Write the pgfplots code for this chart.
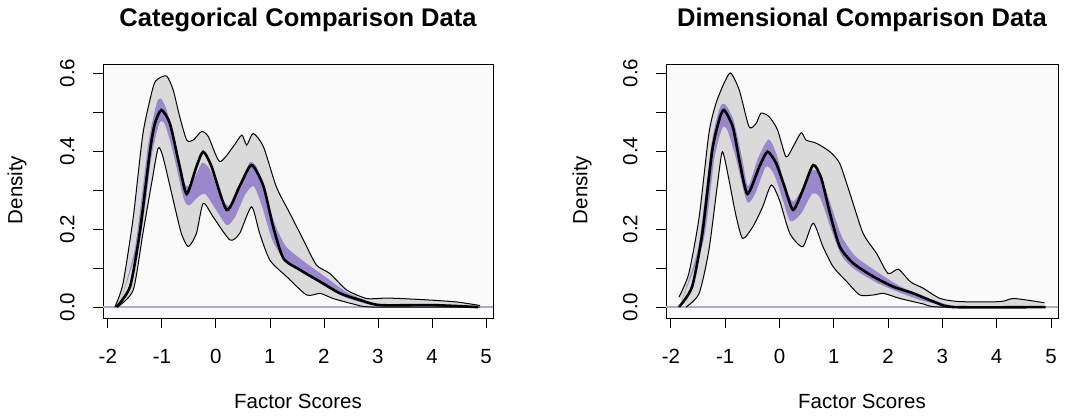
\documentclass[border=0pt]{standalone}
\usepackage{pgfplots}
\pgfplotsset{compat=1.18}
\usepgfplotslibrary{fillbetween}
\usepackage{fontspec}
\setmainfont{Liberation Sans}
\definecolor{bandpurple}{RGB}{155,135,203}
\definecolor{zeroline}{RGB}{176,168,212}
\definecolor{shadegray}{RGB}{218,218,218}

\pgfplotsset{
  densplot/.style={
    scale only axis, width=390pt, height=254pt,
    anchor=south west,
    xmin=-2.09, xmax=5.13, ymin=-0.028, ymax=0.623,
    axis background/.style={fill=gray!4},
    axis line style={black, line width=0.8pt},
    tick align=outside, major tick length=10pt,
    tick style={black, line width=0.8pt},
    xtick={-2,...,5}, xticklabels={-2,-1,0,1,2,3,4,5},
    ytick={0,0.1,...,0.6}, yticklabels={0.0,,0.2,,0.4,,0.6},
    xtick pos=bottom, ytick pos=left,
    tick label style={font=\fontsize{20.5}{20.5}\selectfont},
    xticklabel shift=18pt,
    yticklabel shift=15pt,
    yticklabel style={rotate=90, anchor=south},
  },
  boundline/.style={black, line width=1pt, smooth, tension=0.4},
  meanline/.style={black, line width=2.6pt, smooth, tension=0.4},
  hidden/.style={draw=none, smooth, tension=0.4},
}

\begin{document}
\begin{tikzpicture}
\path (0pt,0pt) rectangle (1079pt,-419pt);

% ---------- left: categorical ----------
\begin{axis}[densplot, at={(103pt,-318pt)}]
  \addplot[name path=ua, hidden] coordinates {
    (-1.87,0)(-1.72,0.06)(-1.53,0.23)(-1.35,0.445)(-1.16,0.565)(-1.07,0.585)(-0.91,0.592)
    (-0.79,0.556)(-0.67,0.488)(-0.54,0.428)(-0.42,0.428)(-0.265,0.45)(-0.14,0.437)
    (0.07,0.373)(0.32,0.411)(0.48,0.441)(0.57,0.415)(0.69,0.445)(0.88,0.411)(1.12,0.308)
    (1.37,0.24)(1.62,0.172)(1.86,0.108)(2.11,0.086)(2.42,0.044)(2.79,0.022)(3.13,0.023)
    (3.41,0.022)(3.96,0.018)(4.46,0.013)(4.89,0.004)};
  \addplot[name path=la, hidden] coordinates {
    (-1.82,0)(-1.53,0.044)(-1.35,0.19)(-1.19,0.317)(-1.07,0.407)(-0.98,0.385)(-0.79,0.274)
    (-0.64,0.189)(-0.51,0.155)(-0.36,0.189)(-0.235,0.266)(-0.05,0.231)(0.26,0.172)
    (0.44,0.189)(0.66,0.257)(0.81,0.189)(1.0,0.12)(1.31,0.078)(1.68,0.031)(1.93,0.035)
    (2.17,0.022)(2.54,0.008)(2.91,0.0)(3.5,0.0)(4.89,0.0)};
  \addplot[fill=shadegray, draw=none] fill between[of=ua and la];

  \addplot[name path=pua, hidden] coordinates {
    (-1.8,0)(-1.5,0.15)(-1.25,0.42)(-1.1,0.52)(-1.02,0.535)(-0.9,0.5)(-0.7,0.38)(-0.55,0.31)
    (-0.4,0.33)(-0.25,0.37)(-0.1,0.35)(0.1,0.28)(0.25,0.26)(0.45,0.31)(0.62,0.37)(0.75,0.36)
    (0.9,0.3)(1.1,0.21)(1.3,0.155)(1.6,0.12)(2.0,0.08)(2.4,0.04)(2.8,0.015)(3.2,0.0)};
  \addplot[name path=pla, hidden] coordinates {
    (-1.8,0)(-1.4,0.18)(-1.2,0.38)(-1.05,0.47)(-0.95,0.47)(-0.8,0.4)(-0.6,0.28)(-0.5,0.26)
    (-0.35,0.28)(-0.2,0.29)(0.0,0.25)(0.2,0.21)(0.35,0.23)(0.55,0.29)(0.7,0.31)(0.85,0.26)
    (1.05,0.17)(1.3,0.115)(1.6,0.09)(2.0,0.055)(2.4,0.025)(2.8,0.008)(3.2,0)};
  \addplot[fill=bandpurple, draw=none] fill between[of=pua and pla];

  \addplot[zeroline, line width=1.6pt] coordinates {(-2.09,0)(5.13,0)};

  \addplot[boundline] coordinates {
    (-1.87,0)(-1.72,0.06)(-1.53,0.23)(-1.35,0.445)(-1.16,0.565)(-1.07,0.585)(-0.91,0.592)
    (-0.79,0.556)(-0.67,0.488)(-0.54,0.428)(-0.42,0.428)(-0.265,0.45)(-0.14,0.437)
    (0.07,0.373)(0.32,0.411)(0.48,0.441)(0.57,0.415)(0.69,0.445)(0.88,0.411)(1.12,0.308)
    (1.37,0.24)(1.62,0.172)(1.86,0.108)(2.11,0.086)(2.42,0.044)(2.79,0.022)(3.13,0.023)
    (3.41,0.022)(3.96,0.018)(4.46,0.013)(4.89,0.004)};
  \addplot[boundline] coordinates {
    (-1.82,0)(-1.53,0.044)(-1.35,0.19)(-1.19,0.317)(-1.07,0.407)(-0.98,0.385)(-0.79,0.274)
    (-0.64,0.189)(-0.51,0.155)(-0.36,0.189)(-0.235,0.266)(-0.05,0.231)(0.26,0.172)
    (0.44,0.189)(0.66,0.257)(0.81,0.189)(1.0,0.12)(1.31,0.078)(1.68,0.031)(1.93,0.035)
    (2.17,0.022)(2.54,0.008)(2.91,0.0)(4.89,0.0)};
  \addplot[meanline] coordinates {
    (-1.84,0)(-1.59,0.052)(-1.41,0.19)(-1.22,0.40)(-1.13,0.47)(-1.01,0.505)(-0.85,0.47)
    (-0.67,0.36)(-0.54,0.29)(-0.36,0.36)(-0.235,0.398)(-0.08,0.36)(0.20,0.249)(0.44,0.31)
    (0.66,0.364)(0.88,0.31)(1.06,0.206)(1.25,0.125)(1.56,0.095)(1.93,0.065)(2.30,0.035)
    (2.67,0.018)(3.04,0.005)(4.02,0.005)(4.85,0)};
\end{axis}

% ---------- right: dimensional ----------
\begin{axis}[densplot, at={(666pt,-318pt)}, width=392pt]
  \addplot[name path=ub, hidden] coordinates {
    (-1.85,0.026)(-1.67,0.086)(-1.48,0.23)(-1.30,0.445)(-1.17,0.522)(-1.02,0.574)(-0.90,0.60)
    (-0.74,0.556)(-0.56,0.462)(-0.43,0.471)(-0.34,0.497)(-0.19,0.488)(-0.035,0.454)
    (0.12,0.385)(0.25,0.411)(0.40,0.447)(0.49,0.428)(0.68,0.42)(0.93,0.398)(1.11,0.368)
    (1.30,0.29)(1.54,0.189)(1.79,0.137)(2.0,0.086)(2.19,0.097)(2.41,0.065)(2.65,0.048)
    (2.96,0.022)(3.33,0.014)(4.07,0.014)(4.32,0.022)(4.88,0.011)};
  \addplot[name path=lb, hidden] coordinates {
    (-1.72,0)(-1.48,0.035)(-1.30,0.146)(-1.14,0.317)(-1.05,0.398)(-0.93,0.326)(-0.81,0.24)
    (-0.68,0.176)(-0.49,0.206)(-0.31,0.257)(-0.15,0.313)(0.0,0.274)(0.19,0.189)(0.43,0.155)
    (0.62,0.215)(0.80,0.155)(0.99,0.103)(1.24,0.065)(1.48,0.031)(1.73,0.031)(1.92,0.035)
    (2.22,0.022)(2.65,0.008)(2.96,0)(4.88,0)};
  \addplot[fill=shadegray, draw=none] fill between[of=ub and lb];

  \addplot[name path=pub, hidden] coordinates {
    (-1.85,0)(-1.5,0.15)(-1.25,0.42)(-1.1,0.51)(-1.0,0.52)(-0.85,0.48)(-0.7,0.39)(-0.58,0.31)
    (-0.4,0.38)(-0.2,0.43)(-0.05,0.39)(0.1,0.31)(0.25,0.27)(0.45,0.31)(0.6,0.35)(0.75,0.34)
    (0.95,0.26)(1.15,0.18)(1.4,0.13)(1.8,0.09)(2.2,0.055)(2.6,0.03)(3.0,0.01)(3.3,0)};
  \addplot[name path=plb, hidden] coordinates {
    (-1.85,0)(-1.4,0.17)(-1.2,0.38)(-1.05,0.46)(-0.95,0.45)(-0.8,0.38)(-0.6,0.27)(-0.45,0.29)
    (-0.25,0.36)(-0.1,0.34)(0.05,0.28)(0.2,0.22)(0.4,0.24)(0.6,0.29)(0.75,0.28)(0.95,0.2)
    (1.15,0.13)(1.4,0.095)(1.8,0.062)(2.2,0.038)(2.6,0.018)(3.0,0.004)(3.3,0)};
  \addplot[fill=bandpurple, draw=none] fill between[of=pub and plb];

  \addplot[zeroline, line width=1.6pt] coordinates {(-2.09,0)(5.13,0)};

  \addplot[boundline] coordinates {
    (-1.85,0.026)(-1.67,0.086)(-1.48,0.23)(-1.30,0.445)(-1.17,0.522)(-1.02,0.574)(-0.90,0.60)
    (-0.74,0.556)(-0.56,0.462)(-0.43,0.471)(-0.34,0.497)(-0.19,0.488)(-0.035,0.454)
    (0.12,0.385)(0.25,0.411)(0.40,0.447)(0.49,0.428)(0.68,0.42)(0.93,0.398)(1.11,0.368)
    (1.30,0.29)(1.54,0.189)(1.79,0.137)(2.0,0.086)(2.19,0.097)(2.41,0.065)(2.65,0.048)
    (2.96,0.022)(3.33,0.014)(4.07,0.014)(4.32,0.022)(4.88,0.011)};
  \addplot[boundline] coordinates {
    (-1.72,0)(-1.48,0.035)(-1.30,0.146)(-1.14,0.317)(-1.05,0.398)(-0.93,0.326)(-0.81,0.24)
    (-0.68,0.176)(-0.49,0.206)(-0.31,0.257)(-0.15,0.313)(0.0,0.274)(0.19,0.189)(0.43,0.155)
    (0.62,0.215)(0.80,0.155)(0.99,0.103)(1.24,0.065)(1.48,0.031)(1.73,0.031)(1.92,0.035)
    (2.22,0.022)(2.65,0.008)(2.96,0)(4.88,0)};
  \addplot[meanline] coordinates {
    (-1.85,0)(-1.61,0.052)(-1.42,0.19)(-1.24,0.40)(-1.11,0.48)(-1.02,0.505)(-0.86,0.462)
    (-0.74,0.377)(-0.59,0.29)(-0.37,0.36)(-0.22,0.398)(-0.06,0.368)(0.09,0.31)(0.25,0.249)
    (0.43,0.30)(0.62,0.364)(0.77,0.33)(0.93,0.24)(1.11,0.155)(1.36,0.112)(1.73,0.078)
    (2.10,0.052)(2.47,0.035)(2.84,0.014)(3.21,0)(4.9,0)};
\end{axis}

% titles and labels
\node[font=\fontsize{25.5}{25.5}\selectfont\bfseries] at (298pt,-20pt) {Categorical Comparison Data};
\node[font=\fontsize{25.5}{25.5}\selectfont\bfseries] at (862pt,-20pt) {Dimensional Comparison Data};
\node[font=\fontsize{20.5}{20.5}\selectfont] at (298pt,-401pt) {Factor Scores};
\node[font=\fontsize{20.5}{20.5}\selectfont] at (862pt,-401pt) {Factor Scores};
\node[font=\fontsize{20.5}{20.5}\selectfont, rotate=90] at (17pt,-190pt) {Density};
\node[font=\fontsize{20.5}{20.5}\selectfont, rotate=90] at (582pt,-190pt) {Density};
\end{tikzpicture}
\end{document}
